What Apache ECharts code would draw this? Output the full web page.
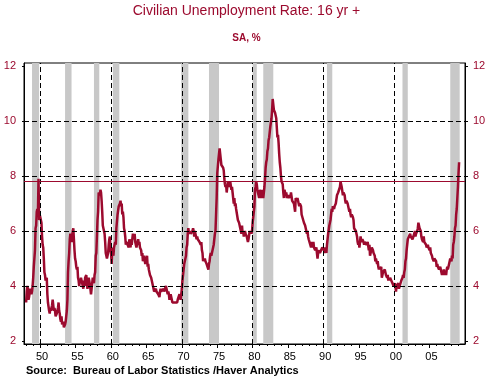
<!DOCTYPE html>
<html><head><meta charset="utf-8">
<script src="https://cdn.jsdelivr.net/npm/echarts@6/dist/echarts.min.js"></script>
<style>html,body{margin:0;padding:0;background:#fff}#c{width:493px;height:379px}</style>
</head><body><div id="c"></div>
<script>
// Monthly civilian unemployment rate (SA, %), starting Jan 1948
const startYear = 1948;
const rate1948s = [
 3.4,3.8,4.0,3.9,3.5,3.6,3.6,3.9,3.8,3.7,3.8,4.0,
 4.3,4.7,5.0,5.3,6.1,6.2,6.7,6.8,6.6,7.9,6.4,6.6];
const rate1950s = [
 6.5,6.4,6.3,5.8,5.5,5.4,5.0,4.5,4.4,4.2,4.2,4.3,
 3.7,3.4,3.4,3.1,3.0,3.2,3.1,3.1,3.3,3.5,3.5,3.1,
 3.2,3.1,2.9,2.9,3.0,3.0,3.2,3.4,3.1,3.0,2.8,2.7,
 2.9,2.6,2.6,2.7,2.5,2.5,2.6,2.7,2.9,3.1,3.5,4.5,
 4.9,5.2,5.7,5.9,5.9,5.6,5.8,6.0,6.1,5.7,5.3,5.0,
 4.9,4.7,4.6,4.7,4.3,4.2,4.0,4.2,4.1,4.3,4.2,4.2,
 4.0,3.9,4.2,4.0,4.3,4.3,4.4,4.1,3.9,3.9,4.3,4.2,
 4.2,3.9,3.7,3.9,4.1,4.3,4.2,4.1,4.4,4.5,5.1,5.2,
 5.8,6.4,6.7,7.4,7.4,7.3,7.5,7.4,7.1,6.7,6.2,6.2,
 6.0,5.9,5.6,5.2,5.1,5.0,5.1,5.2,5.5,5.7,5.8,5.3];
const rate1960s = [
 5.2,4.8,5.4,5.2,5.1,5.4,5.5,5.6,5.5,6.1,6.1,6.6,
 6.6,6.9,6.9,7.0,7.1,6.9,7.0,6.6,6.7,6.5,6.1,6.0,
 5.8,5.5,5.6,5.6,5.5,5.5,5.4,5.7,5.6,5.4,5.7,5.5,
 5.7,5.9,5.7,5.7,5.9,5.6,5.6,5.4,5.5,5.5,5.7,5.5,
 5.6,5.4,5.4,5.3,5.1,5.2,4.9,5.0,5.1,5.1,4.8,5.0,
 4.9,5.1,4.7,4.8,4.6,4.6,4.4,4.4,4.3,4.2,4.1,4.0,
 4.0,3.8,3.8,3.8,3.9,3.8,3.8,3.8,3.7,3.7,3.6,3.8,
 3.9,3.8,3.8,3.8,3.8,3.9,3.8,3.8,3.8,4.0,3.9,3.8,
 3.7,3.8,3.7,3.5,3.5,3.7,3.7,3.5,3.4,3.4,3.4,3.4,
 3.4,3.4,3.4,3.4,3.4,3.5,3.5,3.5,3.7,3.7,3.5,3.5];
const rate1970s = [
 3.9,4.2,4.4,4.6,4.8,4.9,5.0,5.1,5.4,5.5,5.9,6.1,
 5.9,5.9,6.0,5.9,5.9,5.9,6.0,6.1,6.0,5.8,6.0,6.0,
 5.8,5.7,5.8,5.7,5.7,5.7,5.6,5.6,5.5,5.6,5.3,5.2,
 4.9,5.0,4.9,5.0,4.9,4.9,4.8,4.8,4.8,4.6,4.8,4.9,
 5.1,5.2,5.1,5.1,5.1,5.4,5.5,5.5,5.9,6.0,6.6,7.2,
 8.1,8.1,8.6,8.8,9.0,8.8,8.6,8.4,8.4,8.4,8.3,8.2,
 7.9,7.7,7.6,7.7,7.4,7.6,7.8,7.8,7.6,7.7,7.8,7.8,
 7.5,7.6,7.4,7.2,7.0,7.2,6.9,7.0,6.8,6.8,6.8,6.4,
 6.4,6.3,6.3,6.1,6.0,5.9,6.2,5.9,6.0,5.8,5.9,6.0,
 5.9,5.9,5.8,5.8,5.6,5.7,5.7,6.0,5.9,6.0,5.9,6.0];
const rate1980s = [
 6.3,6.3,6.3,6.9,7.5,7.6,7.8,7.7,7.5,7.5,7.5,7.2,
 7.5,7.4,7.4,7.2,7.5,7.5,7.2,7.4,7.6,7.9,8.3,8.5,
 8.6,8.9,9.0,9.3,9.4,9.6,9.8,9.8,10.1,10.4,10.8,10.8,
 10.4,10.4,10.3,10.2,10.1,10.1,9.4,9.5,9.2,8.8,8.5,8.3,
 8.0,7.8,7.8,7.7,7.4,7.2,7.5,7.5,7.3,7.4,7.2,7.3,
 7.3,7.2,7.2,7.3,7.2,7.4,7.4,7.1,7.1,7.1,7.0,7.0,
 6.7,7.2,7.2,7.1,7.2,7.2,7.0,6.9,7.0,7.0,6.9,6.6,
 6.6,6.6,6.6,6.3,6.3,6.2,6.1,6.0,5.9,6.0,5.8,5.7,
 5.7,5.7,5.7,5.4,5.6,5.4,5.4,5.6,5.4,5.4,5.3,5.3,
 5.4,5.2,5.0,5.2,5.2,5.3,5.2,5.2,5.3,5.3,5.4,5.4];
const rate1990s = [
 5.4,5.3,5.2,5.4,5.4,5.2,5.5,5.7,5.9,5.9,6.2,6.3,
 6.4,6.6,6.8,6.7,6.9,6.9,6.8,6.9,6.9,7.0,7.0,7.3,
 7.3,7.4,7.4,7.4,7.6,7.8,7.7,7.6,7.6,7.3,7.4,7.4,
 7.3,7.1,7.0,7.1,7.1,7.0,6.9,6.8,6.7,6.8,6.6,6.5,
 6.6,6.6,6.5,6.4,6.1,6.1,6.1,6.0,5.9,5.8,5.6,5.5,
 5.6,5.4,5.4,5.8,5.6,5.6,5.7,5.7,5.6,5.5,5.6,5.6,
 5.6,5.5,5.5,5.6,5.6,5.3,5.5,5.1,5.2,5.2,5.4,5.4,
 5.3,5.2,5.2,5.1,4.9,5.0,4.9,4.8,4.9,4.7,4.6,4.7,
 4.6,4.6,4.7,4.3,4.4,4.5,4.5,4.5,4.6,4.5,4.4,4.4,
 4.3,4.4,4.2,4.3,4.2,4.3,4.3,4.2,4.2,4.1,4.1,4.0];
const rate2000s = [
 4.0,4.1,4.0,3.8,4.0,4.0,4.0,4.1,3.9,3.9,3.9,3.9,
 4.2,4.2,4.3,4.4,4.3,4.5,4.6,4.9,5.0,5.3,5.5,5.7,
 5.7,5.7,5.7,5.9,5.8,5.8,5.8,5.7,5.7,5.7,5.9,6.0,
 5.8,5.9,5.9,6.0,6.1,6.3,6.2,6.1,6.1,6.0,5.8,5.7,
 5.7,5.6,5.8,5.6,5.6,5.6,5.5,5.4,5.4,5.5,5.4,5.4,
 5.3,5.4,5.2,5.2,5.1,5.0,5.0,4.9,5.0,5.0,5.0,4.9,
 4.7,4.8,4.7,4.7,4.6,4.6,4.7,4.7,4.5,4.4,4.5,4.4,
 4.6,4.5,4.4,4.5,4.4,4.6,4.7,4.6,4.7,4.7,4.7,5.0,
 5.0,4.9,5.1,5.0,5.5,5.6,5.8,6.1,6.2,6.6,6.8,7.2,
 7.6,8.1,8.5];

// Recession periods (fractional years: start month, end of last month)
const recessionStarts = [1948.833,1953.5,1957.583,1960.25,1969.917,1973.833,1980.0,1981.5,1990.5,2001.167,2007.917];
const recessionEnds   = [1949.833,1954.417,1958.333,1961.167,1970.917,1975.25,1980.583,1982.917,1991.25,2001.917,2009.25];

const yTickValues = [2,4,6,8,10,12];
const yGridValues = [4,6,8,10];
const xLabelYears = [1950,1955,1960,1965,1970,1975,1980,1985,1990,1995,2000,2005];
const xDecadeLines = [1950,1960,1970,1980,1990,2000];
const referenceLevel = 7.8;

const allRates = [].concat(rate1948s, rate1950s, rate1960s, rate1970s, rate1980s, rate1990s, rate2000s);
const lineData = allRates.map((v, i) => [startYear + i / 12, v]);
const minorYears = [];
for (let y = 1948; y <= 2009; y++) minorYears.push(y);

const RED = '#9c0a2e';
const FONT = 'Liberation Sans, Arial, sans-serif';
const XMIN = 1947.7, XMAX = 2010.0, YMIN = 1.891, YMAX = 12.109;

const chart = echarts.init(document.getElementById('c'), null, {renderer: 'canvas'});
chart.setOption({
  animation: false,
  backgroundColor: '#fff',
  grid: {left: 24, right: 28, top: 63, bottom: 35, show: true, borderColor: '#000', borderWidth: 1, backgroundColor: 'transparent'},
  xAxis: [
    {type: 'value', min: XMIN, max: XMAX, position: 'bottom',
     axisLine: {show: true, lineStyle: {color: '#000', width: 1}},
     axisTick: {show: true, customValues: minorYears, length: 2, lineStyle: {color: '#000'}},
     axisLabel: {show: false}, splitLine: {show: false}},
    {type: 'value', min: XMIN, max: XMAX, position: 'bottom',
     axisLine: {show: false},
     axisTick: {show: true, customValues: xLabelYears, length: 4, lineStyle: {color: '#000'}},
     axisLabel: {show: true, customValues: xLabelYears.map(y => y + 0.25), margin: 7,
       formatter: v => String(Math.floor(v) % 100).padStart(2, '0'),
       color: '#000', fontSize: 11, fontFamily: FONT},
     splitLine: {show: false}}
  ],
  yAxis: [
    {type: 'value', min: YMIN, max: YMAX, position: 'left',
     axisLine: {show: true, lineStyle: {color: '#000'}},
     axisTick: {show: true, customValues: yTickValues, length: 2, lineStyle: {color: '#000'}},
     axisLabel: {show: true, customValues: yTickValues, margin: 8, color: RED, fontSize: 11, fontFamily: FONT},
     splitLine: {show: false}},
    {type: 'value', min: YMIN, max: YMAX, position: 'right',
     axisLine: {show: true, lineStyle: {color: '#000'}},
     axisTick: {show: true, customValues: yTickValues, length: 3, lineStyle: {color: '#000'}},
     axisLabel: {show: true, customValues: yTickValues, margin: 8, color: RED, fontSize: 11, fontFamily: FONT},
     splitLine: {show: false}}
  ],
  graphic: [
    {type: 'text', left: 'center', top: 4, style: {text: 'Civilian Unemployment Rate: 16 yr +', fill: RED, font: '14px ' + FONT}},
    {type: 'text', left: 'center', top: 33, style: {text: 'SA, %', fill: RED, font: 'bold 10px ' + FONT}},
    {type: 'text', left: 26, top: 365, style: {text: 'Source:  Bureau of Labor Statistics /Haver Analytics', fill: '#000', font: 'bold 11px ' + FONT}}
  ],
  series: [
    {type: 'line', xAxisIndex: 0, yAxisIndex: 0, data: [], silent: true, z: 1,
     markArea: {silent: true, itemStyle: {color: '#c8c8c8'},
       data: recessionStarts.map((s, i) => [{xAxis: s}, {xAxis: recessionEnds[i]}])}},
    {type: 'line', xAxisIndex: 0, yAxisIndex: 0, data: [], silent: true, z: 2,
     markLine: {silent: true, symbol: 'none', label: {show: false},
       lineStyle: {color: '#000', width: 1, type: [5, 3]},
       data: yGridValues.map(v => ({yAxis: v})).concat(xDecadeLines.map(v => ({xAxis: v})))}},
    {type: 'line', xAxisIndex: 0, yAxisIndex: 0, data: [], silent: true, z: 3,
     markLine: {silent: true, symbol: 'none', label: {show: false},
       lineStyle: {color: RED, width: 1, type: 'solid'},
       data: [{yAxis: referenceLevel}]}},
    {type: 'line', xAxisIndex: 0, yAxisIndex: 0, data: lineData, showSymbol: false, z: 4,
     lineStyle: {color: RED, width: 2.5}, itemStyle: {color: RED}}
  ]
});
</script></body></html>
